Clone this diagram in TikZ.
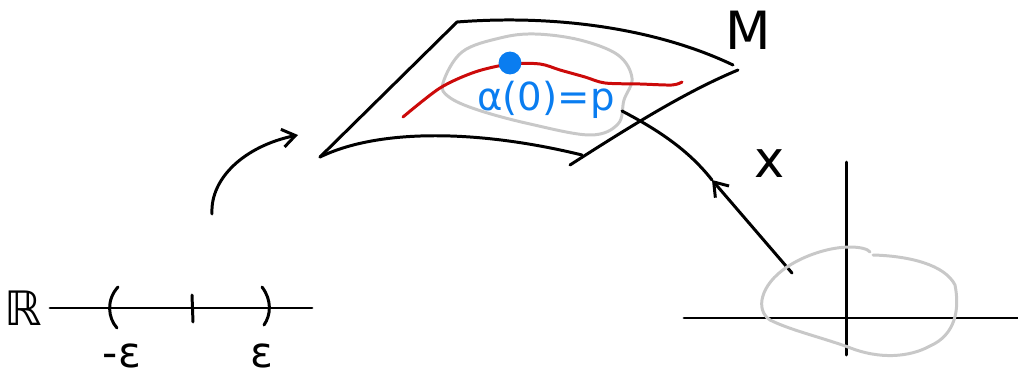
\documentclass[tikz,border=0pt]{standalone}
\usepackage{fontspec}
\setmainfont{DejaVu Sans}
\usetikzlibrary{arrows.meta}

\definecolor{inkred}{RGB}{204,10,10}
\definecolor{inkblue}{RGB}{10,125,240}
\definecolor{inkgray}{RGB}{200,200,200}

\begin{document}
\begin{tikzpicture}[
  x=0.02cm, y=-0.02cm,
  >={Straight Barb[length=2.6mm,width=3.6mm]},
  ink/.style={line width=1.7pt, line cap=round, line join=round},
  pen/.style={ink, draw=black},
  region/.style={ink, draw=inkgray},
  curve/.style={ink, draw=inkred},
  hand/.style={inner sep=0pt, font=\fontsize{#1}{#1}\selectfont},
  hand/.default=26
]
\useasboundingbox (0,0) rectangle (1018,375);

% ---------- Surface M ----------
\coordinate (tl) at (453,26);
\coordinate (tr) at (733,65);
\coordinate (bl) at (320,157);
\coordinate (br) at (582,155);
\draw[pen] (tl) -- (457,22) .. controls (560,14) and (660,30) .. (tr);
\draw[pen] (tl) -- (bl);
\draw[pen] (bl) .. controls (380,128) and (480,130) .. (br);
\draw[pen] (570,165) .. controls (640,120) and (690,90) .. (738,70);

% ---------- Open set around p ----------
\draw[region] plot[smooth cycle, tension=0.6] coordinates {
  (443,83) (462,52) (500,38) (535,34) (580,40) (618,55) (632,78)
  (624,100) (618,124) (590,135) (530,124) (478,110) (449,97)};

% ---------- Curve alpha and the point p ----------
\draw[curve] plot[smooth, tension=0.5] coordinates {
  (403,117) (440,88) (475,72) (510,64) (540,64) (560,70) (585,77)
  (605,83) (640,84) (672,85) (682,82)};
\node[circle, fill=inkblue, inner sep=0pt, minimum size=13pt] (p) at (510,63) {};
\node[hand=22, text=inkblue] (plabel) at (546,100) {α(0)=p};
\node[hand=30] (mlabel) at (748,30) {M};

% ---------- Real line ----------
\node[hand=27] (reals) at (23,308) {ℝ};
\coordinate (rl) at (50,308);
\coordinate (rr) at (312,308);
\draw[pen] (rl) -- (rr);
\draw[pen] (118,287) .. controls (106,300) and (108,318) .. (117,328);
\draw[pen] (192,295) -- (193,322);
\draw[pen] (262,287) .. controls (272,300) and (271,315) .. (264,325);
\node[hand=24] (meps) at (122,356) {-ε};
\node[hand=24] (peps) at (262,356) {ε};

% ---------- alpha arrow ----------
\coordinate (a0) at (212,214);
\coordinate (a1) at (298,135);
\draw[pen, ->] (a0) .. controls (210,178) and (245,146) .. (a1);

% ---------- Chart x ----------
\coordinate (c0) at (792,273);
\coordinate (c1) at (712,180);
\coordinate (c2) at (622,111);
\draw[pen, ->] (c0) -- (c1);
\draw[pen] (c1) .. controls (690,152) and (662,132) .. (c2);
\node[hand=29] (xlabel) at (770,164) {x};

% ---------- Plane with open set ----------
\coordinate (hx0) at (684,318);
\coordinate (hx1) at (1018,318);
\coordinate (vy0) at (846,162);
\coordinate (vy1) at (846,355);
\draw[pen] (hx0) -- (hx1);
\draw[pen] (vy0) -- (vy1);
\draw[region] (873,255) .. controls (910,256) and (945,265) .. (955,285)
  .. controls (960,310) and (955,335) .. (930,346)
  .. controls (910,357) and (880,360) .. (848,347)
  .. controls (820,337) and (790,330) .. (770,320)
  .. controls (755,310) and (760,285) .. (787,267)
  .. controls (805,255) and (830,247) .. (850,247)
  .. controls (860,247) and (868,249) .. (870,252);
\end{tikzpicture}
\end{document}
